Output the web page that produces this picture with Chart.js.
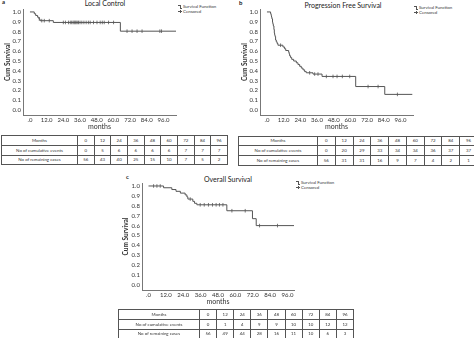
<!DOCTYPE html>
<html>
<head>
<meta charset="utf-8">
<script src="https://cdn.jsdelivr.net/npm/chart.js@4"></script>
<style>
    html, body { margin: 0; padding: 0; background: #fff; }
    body { width: 474px; height: 338px; position: relative; overflow: hidden;
           font-family: Lato, "Liberation Sans", sans-serif; color: #222; }
    .box  { position: absolute; }
    .lbl  { position: absolute; font-size: 6px; font-weight: bold; line-height: 6px; }
    .ttl  { position: absolute; font-size: 7px; line-height: 7px; white-space: nowrap; transform: translate(-50%, -50%); }
    .leg  { position: absolute; font-size: 4.4px; line-height: 4.6px; white-space: nowrap; color: #333; }
    .leg i { display: inline-block; position: relative; width: 4px; height: 3px; margin-right: 1px; vertical-align: middle; }
    .ico-step::before { content: ''; position: absolute; left: 0; top: 0; width: 1.5px; height: 2.5px; border-top: 0.6px solid #555; border-right: 0.6px solid #555; }
    .ico-step::after  { content: ''; position: absolute; left: 2.1px; top: 2.5px; width: 1.9px; border-top: 0.6px solid #555; }
    .ico-cens::before { content: ''; position: absolute; left: 0; top: 1.5px; width: 4px; border-top: 0.6px solid #555; }
    .ico-cens::after  { content: ''; position: absolute; left: 1.7px; top: 0; height: 3px; border-left: 0.6px solid #555; }
    table { position: absolute; border-collapse: collapse; table-layout: fixed; font-size: 4.4px; color: #333; }
    td { border: 0.8px solid #555; text-align: center; padding: 0; height: 8.8px; white-space: nowrap; overflow: hidden; }
</style>
</head>
<body>

<div class="lbl" style="left:2px; top:-1px;">a</div>
<div class="lbl" style="left:239px; top:0px;">b</div>
<div class="lbl" style="left:126px; top:174px;">c</div>

<div class="ttl" style="left:105px; top:3px;">Local Control</div>
<div class="ttl" style="left:343px; top:5px;">Progression Free Survival</div>
<div class="ttl" style="left:228px; top:179px;">Overall Survival</div>

<div class="leg" style="left:178px; top:5px;"><i class="ico-step"></i>Survival Function<br><i class="ico-cens"></i>Censored</div>
<div class="leg" style="left:414px; top:6px;"><i class="ico-step"></i>Survival Function<br><i class="ico-cens"></i>Censored</div>
<div class="leg" style="left:296px; top:181px;"><i class="ico-step"></i>Survival Function<br><i class="ico-cens"></i>Censored</div>

<div class="box" style="left:0px; top:0px;"><canvas id="chartLC" width="237" height="135"></canvas></div>
<div class="box" style="left:237px; top:0px;"><canvas id="chartPFS" width="237" height="135"></canvas></div>
<div class="box" style="left:118px; top:172px;"><canvas id="chartOS" width="236" height="138"></canvas></div>

<table id="tableLC"  style="left:1px;   top:135px;   width:227px;"></table>
<table id="tablePFS" style="left:238px; top:135.5px; width:240px;"></table>
<table id="tableOS"  style="left:118px; top:309px;   width:236px;"></table>

<script>
// ── Axis ticks ───────────────────────────────────────────────
const xTicks = [0, 12, 24, 36, 48, 60, 72, 84, 96];
const yTicks = [0, 0.1, 0.2, 0.3, 0.4, 0.5, 0.6, 0.7, 0.8, 0.9, 1.0];

// ── Local control: step times / survival, censored times ────
const lcTimes    = [0, 3.1, 4.1, 5.5, 6.5, 7.2, 16.8, 65.0, 105.4];
const lcSurv     = [1.0, 0.982, 0.964, 0.946, 0.929, 0.911, 0.893, 0.804, 0.804];
const lcCensored = [6.7, 8.5, 10.3, 13.9, 24.0, 25.5, 27.7, 29.0, 30.0, 31.0, 31.8, 32.5, 33.2, 34.0,
                    34.9, 36.0, 37.3, 38.8, 40.4, 42.0, 43.3, 45.7, 48.2, 50.5, 52.0, 53.4, 56.5, 60.1,
                    69.8, 73.4, 77.0, 80.6, 93.4, 94.6];

// ── Progression free survival ────────────────────────────────
const pfsTimes    = [0, 2.6, 3.0, 3.3, 3.6, 4.0, 4.3, 4.6, 5.0, 5.3, 5.5, 5.8, 6.2, 6.7, 7.3, 7.9,
                     11.5, 12.7, 13.5, 15.6, 16.0, 16.3, 17.0, 17.8, 19.2, 21.1, 22.3, 23.5, 24.7,
                     25.9, 27.1, 28.3, 33.1, 39.6, 63.8, 84.7, 104.5];
const pfsSurv     = [1.0, 0.982, 0.964, 0.946, 0.929, 0.893, 0.875, 0.857, 0.821, 0.786, 0.768, 0.75,
                     0.714, 0.696, 0.679, 0.661, 0.643, 0.625, 0.607, 0.589, 0.571, 0.553, 0.535,
                     0.517, 0.50, 0.482, 0.464, 0.446, 0.428, 0.41, 0.392, 0.38, 0.367, 0.343,
                     0.24, 0.16, 0.16];
const pfsCensored = [9.8, 30.7, 34.3, 36.7, 42.7, 47.5, 50.4, 54.2, 59.5, 72.7, 79.9, 93.8];

// ── Overall survival ─────────────────────────────────────────
const osTimes    = [0, 10.4, 16.1, 19.0, 22.0, 25.3, 26.5, 27.2, 30.6, 31.8, 33.4, 54.1, 71.8, 74.4, 100.5];
const osSurv     = [1.0, 0.982, 0.964, 0.946, 0.928, 0.91, 0.89, 0.868, 0.845, 0.825, 0.81, 0.75, 0.67, 0.60, 0.60];
const osCensored = [3.5, 5.8, 8.1, 28.8, 35.7, 38.5, 41.4, 44.2, 46.7, 49.0, 51.4, 57.6, 66.8, 76.7, 89.1];

// ── Number-at-risk tables ────────────────────────────────────
const tableMonths   = [0, 12, 24, 36, 48, 60, 72, 84, 96];
const lcEvents      = [0, 5, 6, 6, 6, 6, 7, 7, 7];
const lcRemaining   = [56, 43, 40, 25, 15, 10, 7, 5, 2];
const pfsEvents     = [0, 20, 29, 33, 34, 34, 36, 37, 37];
const pfsRemaining  = [56, 31, 31, 16, 9, 7, 4, 2, 1];
const osEvents      = [0, 1, 4, 9, 9, 10, 10, 12, 12];
const osRemaining   = [56, 49, 44, 28, 16, 11, 10, 6, 3];

const FONT  = 'Lato, "Liberation Sans", sans-serif';
const INK   = '#555';
const TEXT  = '#333';

// ── Survival value at time t (step function lookup) ─────────
function survAt(times, surv, t) {
    let s = surv[0];
    for (let i = 0; i < times.length; i++) {
        if (times[i] <= t) s = surv[i];
    }
    return s;
}

// ── Build one Kaplan-Meier chart ─────────────────────────────
function makeKM(id, times, surv, censored, xMin, xMax, pad, yWidth) {
    const line = times.map((t, i) => ({ x: t, y: surv[i] }));
    const marks = censored.map(t => ({ x: t, y: survAt(times, surv, t) }));

    return new Chart(document.getElementById(id), {
        type: 'scatter',
        data: {
            datasets: [
                {
                    data: line,
                    showLine: true,
                    stepped: 'before',
                    borderColor: INK,
                    borderWidth: 1,
                    pointRadius: 0,
                },
                {
                    data: marks,
                    showLine: false,
                    pointStyle: 'line',
                    rotation: 90,
                    pointRadius: 1.8,
                    borderColor: INK,
                    borderWidth: 0.8,
                }
            ]
        },
        options: {
            responsive: false,
            animation: false,
            events: [],
            layout: { padding: pad },
            plugins: { legend: { display: false }, tooltip: { enabled: false } },
            scales: {
                x: {
                    type: 'linear',
                    min: xMin,
                    max: xMax,
                    afterBuildTicks: s => { s.ticks = xTicks.map(v => ({ value: v })); },
                    afterFit: s => { s.height = 20; },
                    ticks: {
                        autoSkip: false, maxRotation: 0, padding: 1,
                        color: TEXT, font: { family: FONT, size: 6 },
                        callback: v => v === 0 ? '.0' : v.toFixed(1)
                    },
                    grid: { display: false, drawTicks: false },
                    border: { color: '#777', width: 1 },
                    title: {
                        display: true, text: 'months', color: TEXT,
                        font: { family: FONT, size: 7 }, padding: { top: 0, bottom: 4 }
                    }
                },
                y: {
                    type: 'linear',
                    min: -0.05,
                    max: 1.03,
                    afterBuildTicks: s => { s.ticks = yTicks.map(v => ({ value: v })); },
                    afterFit: s => { s.width = yWidth; },
                    ticks: {
                        autoSkip: false, padding: 2,
                        color: TEXT, font: { family: FONT, size: 6 },
                        callback: v => v.toFixed(1)
                    },
                    grid: { display: false, drawTicks: false },
                    border: { color: '#777', width: 1 },
                    title: {
                        display: true, text: 'Cum Survival', color: TEXT,
                        font: { family: FONT, size: 6.5, weight: 'bold' }, padding: { top: 4, bottom: 0 }
                    }
                }
            }
        }
    });
}

// ── Build one at-risk table ──────────────────────────────────
function makeTable(id, firstCol, events, remaining) {
    const rows = [
        ['Months', tableMonths],
        ['No of cumulative events', events],
        ['No of remaining cases', remaining]
    ];
    let html = '<colgroup><col style="width:' + firstCol + 'px">';
    tableMonths.forEach(() => { html += '<col>'; });
    html += '</colgroup>';
    rows.forEach(r => {
        html += '<tr><td>' + r[0] + '</td>' + r[1].map(v => '<td>' + v + '</td>').join('') + '</tr>';
    });
    document.getElementById(id).innerHTML = html;
}

makeKM('chartLC',  lcTimes,  lcSurv,  lcCensored,  -5,   105,   { left: 0, right: 61, top: 9, bottom: 0 },  23);
makeKM('chartPFS', pfsTimes, pfsSurv, pfsCensored, -5,   105,   { left: 0, right: 61, top: 9, bottom: 0 },  23);
makeKM('chartOS',  osTimes,  osSurv,  osCensored,  -4.5, 100.5, { left: 0, right: 60, top: 11, bottom: 0 }, 24);

makeTable('tableLC',  76, lcEvents,  lcRemaining);
makeTable('tablePFS', 79, pfsEvents, pfsRemaining);
makeTable('tableOS',  81, osEvents,  osRemaining);
</script>
</body>
</html>
